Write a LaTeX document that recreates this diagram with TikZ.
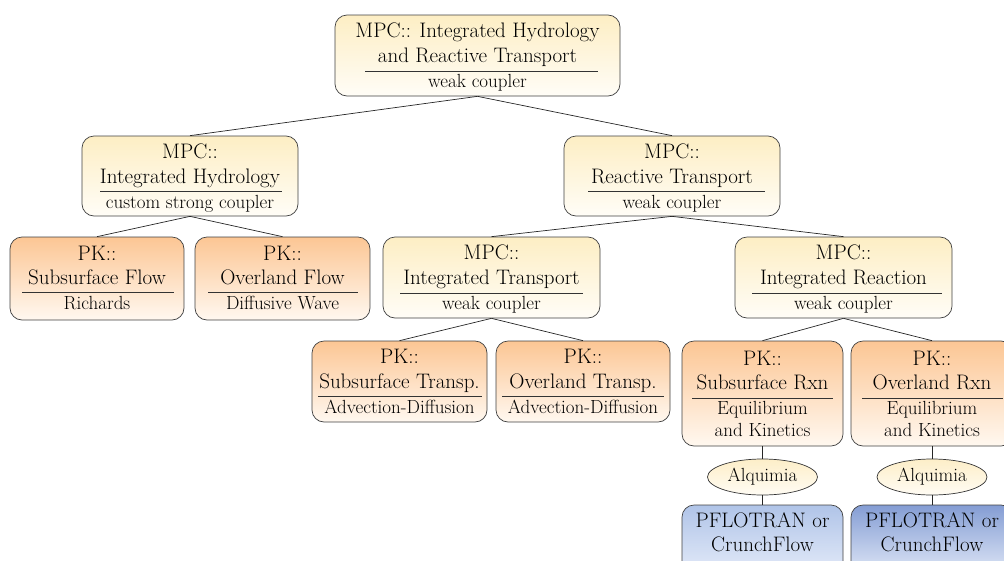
\documentclass[tikz,border=0pt]{standalone}
\usetikzlibrary{shapes.geometric}
\definecolor{mpcT}{RGB}{253,238,196}
\definecolor{mpcB}{RGB}{255,253,247}
\definecolor{pkT}{RGB}{252,198,148}
\definecolor{pkB}{RGB}{255,248,240}
\definecolor{blT}{RGB}{176,196,232}
\definecolor{blTd}{RGB}{132,157,212}
\definecolor{blB}{RGB}{232,238,250}
\definecolor{alT}{RGB}{253,238,200}
\definecolor{alB}{RGB}{255,252,244}
\tikzset{
 box/.style={draw=black!75, line width=0.7pt, rounded corners=12pt, inner sep=0pt},
 mpc/.style={box, top color=mpcT, bottom color=mpcB},
 pk/.style={box, top color=pkT, bottom color=pkB},
 eng/.style={box, top color=blT, bottom color=blB},
 alq/.style={ellipse, draw=black!80, line width=0.7pt, top color=alT, bottom color=alB, minimum width=110pt, minimum height=36pt, inner sep=0pt, font=\fontsize{19}{22}\selectfont},
 big/.style={font=\fontsize{21}{24}\selectfont, inner sep=0pt, text height=14.5pt, text depth=4.5pt},
 small/.style={font=\fontsize{19}{22}\selectfont, inner sep=0pt, text height=13pt, text depth=4pt},
 sep/.style={draw=black!80, line width=0.6pt},
 link/.style={draw=black!85, line width=0.7pt}
}
\begin{document}
\begin{tikzpicture}[x=1pt,y=-1pt]
\useasboundingbox (0,0) rectangle (1004,560);
\clip (0,0) rectangle (1004,560);
% boxes
\node[mpc, minimum width=285pt, minimum height=81pt] (top) at (477.5,55.5) {};
\node[mpc, minimum width=216pt, minimum height=80pt] (ih) at (190,176) {};
\node[mpc, minimum width=216pt, minimum height=80pt] (rt) at (672,176) {};
\node[pk, minimum width=174pt, minimum height=83pt] (sf) at (97,278.5) {};
\node[pk, minimum width=175pt, minimum height=83pt] (of) at (282.5,278.5) {};
\node[mpc, minimum width=217pt, minimum height=81pt] (it) at (491.5,277.5) {};
\node[mpc, minimum width=217pt, minimum height=81pt] (ir) at (843.5,277.5) {};
\node[pk, minimum width=175pt, minimum height=81pt] (st) at (399.5,381.5) {};
\node[pk, minimum width=174pt, minimum height=81pt] (ot) at (583,381.5) {};
\node[pk, minimum width=161pt, minimum height=105pt] (sr) at (762.5,393.5) {};
\node[pk, minimum width=162pt, minimum height=105pt] (or) at (932,393.5) {};
\node[alq] (a1) at (762.5,477) {Alquimia};
\node[alq] (a2) at (932,477) {Alquimia};
\node[eng, minimum width=161pt, minimum height=76pt] (e1) at (762.5,543) {};
\node[eng, top color=blTd, minimum width=162pt, minimum height=76pt] (e2) at (932,543) {};
% links
\draw[link] (top.south) -- (ih.north);
\draw[link] (top.south) -- (rt.north);
\draw[link] (ih.south) -- (sf.north);
\draw[link] (ih.south) -- (of.north);
\draw[link] (rt.south) -- (it.north);
\draw[link] (rt.south) -- (ir.north);
\draw[link] (it.south) -- (st.north);
\draw[link] (it.south) -- (ot.north);
\draw[link] (ir.south) -- (sr.north);
\draw[link] (ir.south) -- (or.north);
\draw[link] (sr.south) -- (a1.north);
\draw[link] (or.south) -- (a2.north);
\draw[link] (a1.south) -- (e1.north);
\draw[link] (a2.south) -- (e2.north);
% top
\node[big] (top1) at (477.5,32) {MPC:: Integrated Hydrology};
\node[big] (top2) at (477.5,57) {and Reactive Transport};
\draw[sep] (365,71.5) -- (598,71.5);
\node[small] (top3) at (477.5,83) {weak coupler};
% ih
\node[big] (ih1) at (190,153) {MPC::};
\node[big] (ih2) at (190,178) {Integrated Hydrology};
\draw[sep] (100,191.5) -- (282,191.5);
\node[small] (ih3) at (190,204) {custom strong coupler};
% rt
\node[big] (rt1) at (672,153) {MPC::};
\node[big] (rt2) at (672,178) {Reactive Transport};
\draw[sep] (588,191.5) -- (765,191.5);
\node[small] (rt3) at (672,204) {weak coupler};
% sf
\node[big] (sf1) at (97,255) {PK::};
\node[big] (sf2) at (97,279) {Subsurface Flow};
\draw[sep] (22,292.5) -- (174,292.5);
\node[small] (sf3) at (97,305) {Richards};
% of
\node[big] (of1) at (282.5,255) {PK::};
\node[big] (of2) at (282.5,279) {Overland Flow};
\draw[sep] (208,292.5) -- (358,292.5);
\node[small] (of3) at (282.5,305) {Diffusive Wave};
% it
\node[big] (it1) at (491.5,254) {MPC::};
\node[big] (it2) at (491.5,279) {Integrated Transport};
\draw[sep] (400,293) -- (583,293);
\node[small] (it3) at (491.5,305) {weak coupler};
% ir
\node[big] (ir1) at (843.5,254) {MPC::};
\node[big] (ir2) at (843.5,279) {Integrated Reaction};
\draw[sep] (752,293) -- (942,293);
\node[small] (ir3) at (843.5,305) {weak coupler};
% st
\node[big] (st1) at (399.5,358) {PK::};
\node[big] (st2) at (399.5,383) {Subsurface Transp.};
\draw[sep] (318,396.5) -- (482,396.5);
\node[small] (st3) at (399.5,409) {Advection-Diffusion};
% ot
\node[big] (ot1) at (583,358) {PK::};
\node[big] (ot2) at (583,383) {Overland Transp.};
\draw[sep] (502,396.5) -- (664,396.5);
\node[small] (ot3) at (583,409) {Advection-Diffusion};
% sr
\node[big] (sr1) at (762.5,360) {PK::};
\node[big] (sr2) at (762.5,384) {Subsurface Rxn};
\draw[sep] (692,398.5) -- (833,398.5);
\node[small] (sr3) at (762.5,410) {Equilibrium};
\node[small] (sr4) at (762.5,432) {and Kinetics};
% or
\node[big] (or1) at (932,360) {PK::};
\node[big] (or2) at (932,384) {Overland Rxn};
\draw[sep] (862,398.5) -- (1003,398.5);
\node[small] (or3) at (932,410) {Equilibrium};
\node[small] (or4) at (932,432) {and Kinetics};
% engines
\node[big] (e1a) at (762.5,522) {PFLOTRAN or};
\node[big] (e1b) at (762.5,546) {CrunchFlow};
\node[big] (e2a) at (932,522) {PFLOTRAN or};
\node[big] (e2b) at (932,546) {CrunchFlow};
\end{tikzpicture}
\end{document}
